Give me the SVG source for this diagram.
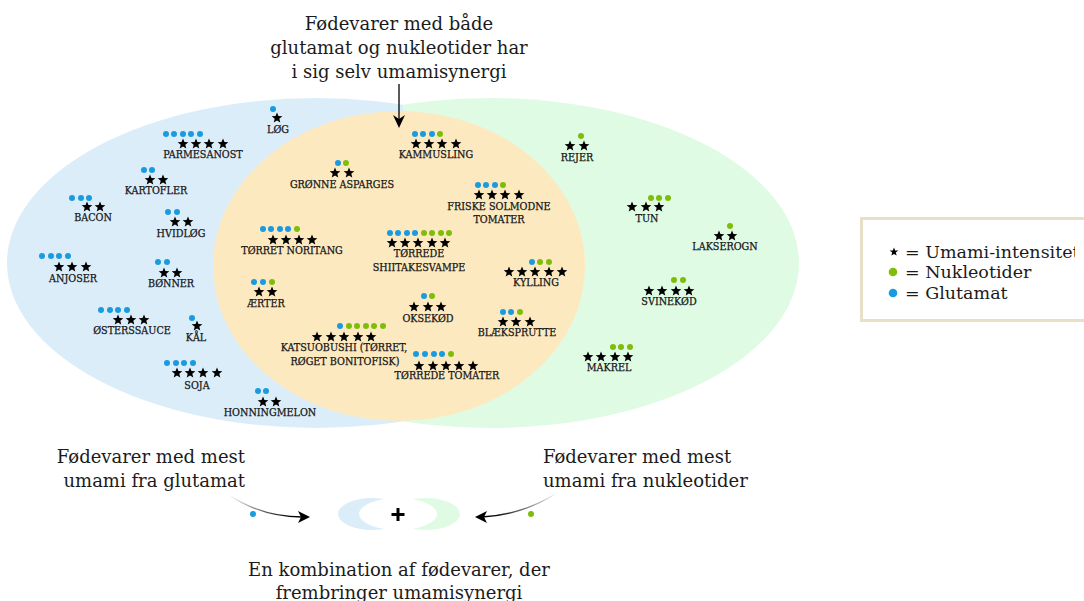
<svg xmlns="http://www.w3.org/2000/svg" xmlns:xlink="http://www.w3.org/1999/xlink" width="1084" height="601" viewBox="0 0 1084 601">
<style>
.lbl{font-family:"DejaVu Serif","Liberation Serif",serif;font-stretch:condensed;font-size:10.7px;fill:#161616;stroke:#161616;stroke-width:0.25px;text-anchor:middle}
.big{font-family:"DejaVu Serif","Liberation Serif",serif;font-size:18px;fill:#1b1b1b}
.leg{font-family:"DejaVu Serif","Liberation Serif",serif;font-size:17.5px;fill:#1b1b1b}
.b{fill:#1a9be0}
.g{fill:#7fbd0b}
</style>
<defs>
<path id="star" d="M0,-5.6 L1.45,-1.95 L5.33,-1.73 L2.3,0.75 L3.29,4.53 L0,2.4 L-3.29,4.53 L-2.3,0.75 L-5.33,-1.73 L-1.45,-1.95 Z"/>
<clipPath id="rightHalf"><rect x="403" y="0" width="681" height="601"/></clipPath>
<clipPath id="legClip"><rect x="850" y="200" width="225" height="140"/></clipPath>
<linearGradient id="fadeL" gradientUnits="userSpaceOnUse" x1="229" y1="495" x2="290" y2="517">
<stop offset="0" stop-color="#000" stop-opacity="0"/><stop offset="1" stop-color="#000"/>
</linearGradient>
<linearGradient id="fadeR" gradientUnits="userSpaceOnUse" x1="557" y1="493" x2="495" y2="517">
<stop offset="0" stop-color="#000" stop-opacity="0"/><stop offset="1" stop-color="#000"/>
</linearGradient>
</defs>

<g id="venn">
<ellipse cx="316" cy="263" rx="309" ry="165" fill="#dcedfa"/>
<ellipse cx="490" cy="263" rx="309" ry="165" fill="#e0fbe4" clip-path="url(#rightHalf)"/>
<ellipse cx="399" cy="266" rx="186" ry="155" fill="#fde9c0"/>
</g>

<g id="title">
<text class="big" text-anchor="middle" x="399" y="30">Fødevarer med både</text>
<text class="big" text-anchor="middle" x="399" y="54">glutamat og nukleotider har</text>
<text class="big" text-anchor="middle" x="399" y="78">i sig selv umamisynergi</text>
</g>

<g id="connectors">
<line x1="399" y1="84" x2="399" y2="120" stroke="#000" stroke-width="1.3"/>
<path d="M399,128 L393,115 L399,119 L405,115 Z" fill="#000"/>
<path d="M229,495 Q262,517 302,517" fill="none" stroke="url(#fadeL)" stroke-width="1.4"/>
<path d="M310,517 L298,511 L301,517 L298,523 Z" fill="#000"/>
<path d="M557,493 Q522,515 482,517" fill="none" stroke="url(#fadeR)" stroke-width="1.4"/>
<path d="M475,517 L487,511 L484,517 L487,523 Z" fill="#000"/>
</g>

<g id="n-log"><circle class="b" cx="273" cy="109" r="3"/><use href="#star" x="277" y="118"/><text class="lbl" x="278" y="133">LØG</text></g>
<g id="n-parmesanost"><circle class="b" cx="166" cy="134" r="3"/><circle class="b" cx="174" cy="134" r="3"/><circle class="b" cx="183" cy="134" r="3"/><circle class="b" cx="191" cy="134" r="3"/><circle class="b" cx="200" cy="134" r="3"/><use href="#star" x="183" y="144"/><use href="#star" x="196" y="144"/><use href="#star" x="209" y="144"/><use href="#star" x="223" y="144"/><text class="lbl" x="203" y="158">PARMESANOST</text></g>
<g id="n-kartofler"><circle class="b" cx="144" cy="170" r="3"/><circle class="b" cx="152" cy="170" r="3"/><use href="#star" x="150" y="180"/><use href="#star" x="163" y="180"/><text class="lbl" x="156" y="194">KARTOFLER</text></g>
<g id="n-bacon"><circle class="b" cx="72" cy="198" r="3"/><circle class="b" cx="81" cy="198" r="3"/><circle class="b" cx="89" cy="198" r="3"/><use href="#star" x="87" y="207"/><use href="#star" x="100" y="207"/><text class="lbl" x="93" y="221">BACON</text></g>
<g id="n-hvidlog"><circle class="b" cx="168" cy="212" r="3"/><circle class="b" cx="177" cy="212" r="3"/><use href="#star" x="175" y="222"/><use href="#star" x="188" y="222"/><text class="lbl" x="181" y="237">HVIDLØG</text></g>
<g id="n-anjoser"><circle class="b" cx="42" cy="256" r="3"/><circle class="b" cx="51" cy="256" r="3"/><circle class="b" cx="59" cy="256" r="3"/><circle class="b" cx="68" cy="256" r="3"/><use href="#star" x="59" y="267"/><use href="#star" x="72" y="267"/><use href="#star" x="86" y="267"/><text class="lbl" x="73" y="282">ANJOSER</text></g>
<g id="n-bonner"><circle class="b" cx="158" cy="262" r="3"/><circle class="b" cx="167" cy="262" r="3"/><use href="#star" x="164" y="273"/><use href="#star" x="177" y="273"/><text class="lbl" x="171" y="287">BØNNER</text></g>
<g id="n-osterssauce"><circle class="b" cx="101" cy="310" r="3"/><circle class="b" cx="110" cy="310" r="3"/><circle class="b" cx="118" cy="310" r="3"/><circle class="b" cx="127" cy="310" r="3"/><use href="#star" x="118" y="320"/><use href="#star" x="131" y="320"/><use href="#star" x="144" y="320"/><text class="lbl" x="132" y="334">ØSTERSSAUCE</text></g>
<g id="n-kal"><circle class="b" cx="192" cy="318" r="3"/><use href="#star" x="197" y="326"/><text class="lbl" x="196" y="341">KÅL</text></g>
<g id="n-soja"><circle class="b" cx="167" cy="363" r="3"/><circle class="b" cx="176" cy="363" r="3"/><circle class="b" cx="184" cy="363" r="3"/><circle class="b" cx="193" cy="363" r="3"/><use href="#star" x="177" y="373"/><use href="#star" x="190" y="373"/><use href="#star" x="203" y="373"/><use href="#star" x="217" y="373"/><text class="lbl" x="197" y="389">SOJA</text></g>
<g id="n-honningmelon"><circle class="b" cx="258" cy="391" r="3"/><circle class="b" cx="266" cy="391" r="3"/><use href="#star" x="263" y="402"/><use href="#star" x="276" y="402"/><text class="lbl" x="270" y="416">HONNINGMELON</text></g>

<g id="n-kammusling"><circle class="b" cx="415" cy="134" r="3"/><circle class="b" cx="423" cy="134" r="3"/><circle class="b" cx="432" cy="134" r="3"/><circle class="g" cx="440" cy="134" r="3"/><use href="#star" x="416" y="144"/><use href="#star" x="429" y="144"/><use href="#star" x="442" y="144"/><use href="#star" x="456" y="144"/><text class="lbl" x="436" y="158">KAMMUSLING</text></g>
<g id="n-asparges"><circle class="b" cx="338" cy="163" r="3"/><circle class="g" cx="346" cy="163" r="3"/><use href="#star" x="335" y="173"/><use href="#star" x="349" y="173"/><text class="lbl" x="342" y="188">GRØNNE ASPARGES</text></g>
<g id="n-friske"><circle class="b" cx="478" cy="185" r="3"/><circle class="b" cx="486" cy="185" r="3"/><circle class="b" cx="495" cy="185" r="3"/><circle class="g" cx="503" cy="185" r="3"/><use href="#star" x="479" y="195"/><use href="#star" x="492" y="195"/><use href="#star" x="505" y="195"/><use href="#star" x="519" y="195"/><text class="lbl" x="499" y="210">FRISKE SOLMODNE</text><text class="lbl" x="499" y="223">TOMATER</text></g>
<g id="n-noritang"><circle class="b" cx="263" cy="229" r="3"/><circle class="b" cx="271" cy="229" r="3"/><circle class="b" cx="280" cy="229" r="3"/><circle class="b" cx="288" cy="229" r="3"/><circle class="g" cx="297" cy="229" r="3"/><use href="#star" x="273" y="240"/><use href="#star" x="286" y="240"/><use href="#star" x="299" y="240"/><use href="#star" x="312" y="240"/><text class="lbl" x="292" y="254">TØRRET NORITANG</text></g>
<g id="n-shiitake"><circle class="b" cx="390" cy="233" r="3"/><circle class="b" cx="398" cy="233" r="3"/><circle class="b" cx="407" cy="233" r="3"/><circle class="b" cx="415" cy="233" r="3"/><circle class="g" cx="424" cy="233" r="3"/><circle class="g" cx="432" cy="233" r="3"/><circle class="g" cx="441" cy="233" r="3"/><circle class="g" cx="449" cy="233" r="3"/><use href="#star" x="392" y="243"/><use href="#star" x="405" y="243"/><use href="#star" x="418" y="243"/><use href="#star" x="432" y="243"/><use href="#star" x="445" y="243"/><text class="lbl" x="419" y="257">TØRREDE</text><text class="lbl" x="419" y="271">SHIITAKESVAMPE</text></g>
<g id="n-kylling"><circle class="b" cx="532" cy="262" r="3"/><circle class="g" cx="540" cy="262" r="3"/><circle class="g" cx="549" cy="262" r="3"/><use href="#star" x="509" y="272"/><use href="#star" x="522" y="272"/><use href="#star" x="535" y="272"/><use href="#star" x="549" y="272"/><use href="#star" x="562" y="272"/><text class="lbl" x="536" y="286">KYLLING</text></g>
<g id="n-aerter"><circle class="b" cx="254" cy="282" r="3"/><circle class="b" cx="263" cy="282" r="3"/><circle class="g" cx="272" cy="282" r="3"/><use href="#star" x="259" y="292"/><use href="#star" x="272" y="292"/><text class="lbl" x="266" y="307">ÆRTER</text></g>
<g id="n-oksekod"><circle class="b" cx="424" cy="296" r="3"/><circle class="g" cx="432" cy="296" r="3"/><use href="#star" x="414" y="307"/><use href="#star" x="428" y="307"/><use href="#star" x="441" y="307"/><text class="lbl" x="428" y="322">OKSEKØD</text></g>
<g id="n-blaeksprutte"><circle class="b" cx="503" cy="312" r="3"/><circle class="b" cx="511" cy="312" r="3"/><circle class="g" cx="520" cy="312" r="3"/><use href="#star" x="503" y="322"/><use href="#star" x="516" y="322"/><use href="#star" x="530" y="322"/><text class="lbl" x="517" y="336">BLÆKSPRUTTE</text></g>
<g id="n-katsuobushi"><circle class="b" cx="340" cy="326" r="3"/><circle class="g" cx="349" cy="326" r="3"/><circle class="g" cx="357" cy="326" r="3"/><circle class="g" cx="366" cy="326" r="3"/><circle class="g" cx="374" cy="326" r="3"/><circle class="g" cx="383" cy="326" r="3"/><use href="#star" x="317" y="337"/><use href="#star" x="331" y="337"/><use href="#star" x="344" y="337"/><use href="#star" x="358" y="337"/><use href="#star" x="371" y="337"/><text class="lbl" x="344" y="351">KATSUOBUSHI (TØRRET,</text><text class="lbl" x="345" y="365">RØGET BONITOFISK)</text></g>
<g id="n-torrede-tomater"><circle class="b" cx="416" cy="354" r="3"/><circle class="b" cx="425" cy="354" r="3"/><circle class="b" cx="434" cy="354" r="3"/><circle class="b" cx="442" cy="354" r="3"/><circle class="g" cx="451" cy="354" r="3"/><use href="#star" x="419" y="366"/><use href="#star" x="433" y="366"/><use href="#star" x="446" y="366"/><use href="#star" x="459" y="366"/><use href="#star" x="473" y="366"/><text class="lbl" x="447" y="379">TØRREDE TOMATER</text></g>

<g id="n-rejer"><circle class="g" cx="581" cy="136" r="3"/><use href="#star" x="570" y="146"/><use href="#star" x="584" y="146"/><text class="lbl" x="577" y="161">REJER</text></g>
<g id="n-tun"><circle class="g" cx="651" cy="198" r="3"/><circle class="g" cx="659" cy="198" r="3"/><circle class="g" cx="668" cy="198" r="3"/><use href="#star" x="632" y="207"/><use href="#star" x="646" y="207"/><use href="#star" x="659" y="207"/><text class="lbl" x="647" y="222">TUN</text></g>
<g id="n-lakserogn"><circle class="g" cx="730" cy="226" r="3"/><use href="#star" x="719" y="236"/><use href="#star" x="732" y="236"/><text class="lbl" x="725" y="250">LAKSEROGN</text></g>
<g id="n-svinekod"><circle class="g" cx="674" cy="280" r="3"/><circle class="g" cx="683" cy="280" r="3"/><use href="#star" x="649" y="291"/><use href="#star" x="662" y="291"/><use href="#star" x="676" y="291"/><use href="#star" x="689" y="291"/><text class="lbl" x="669" y="305">SVINEKØD</text></g>
<g id="n-makrel"><circle class="g" cx="613" cy="347" r="3"/><circle class="g" cx="621" cy="347" r="3"/><circle class="g" cx="630" cy="347" r="3"/><use href="#star" x="588" y="357"/><use href="#star" x="601" y="357"/><use href="#star" x="615" y="357"/><use href="#star" x="628" y="357"/><text class="lbl" x="609" y="371">MAKREL</text></g>

<g id="legend">
<rect x="861.5" y="218.5" width="240" height="102" fill="#fff" stroke="#e8dfc9" stroke-width="3"/>
<g clip-path="url(#legClip)">
<use href="#star" transform="translate(894,252) scale(0.8)"/>
<text class="leg" x="905" y="258">= Umami-intensitet</text>
<circle class="g" cx="893" cy="272" r="4.3"/>
<text class="leg" x="905" y="278">= Nukleotider</text>
<circle class="b" cx="893" cy="293" r="4.3"/>
<text class="leg" x="905" y="299">= Glutamat</text>
</g>
</g>

<g id="glutamat-note">
<text class="big" text-anchor="end" x="245" y="463">Fødevarer med mest</text>
<text class="big" text-anchor="end" x="245" y="487">umami fra glutamat</text>
<circle class="b" cx="253" cy="514" r="3"/>
</g>
<g id="nukleotid-note">
<text class="big" x="543" y="463">Fødevarer med mest</text>
<text class="big" x="543" y="487">umami fra nukleotider</text>
<circle class="g" cx="531" cy="514" r="3"/>
</g>

<g id="synergy">
<ellipse cx="372" cy="514" rx="34" ry="16" fill="#dcedfa"/>
<ellipse cx="426" cy="514" rx="34" ry="16" fill="#e0fbe4"/>
<ellipse cx="398" cy="514" rx="39" ry="16" fill="#fff"/>
<path d="M398,508 V521 M391.5,514.5 H404.5" stroke="#000" stroke-width="3"/>
<text class="big" text-anchor="middle" x="399" y="576">En kombination af fødevarer, der</text>
<text class="big" text-anchor="middle" x="399" y="599">frembringer umamisynergi</text>
</g>
</svg>
